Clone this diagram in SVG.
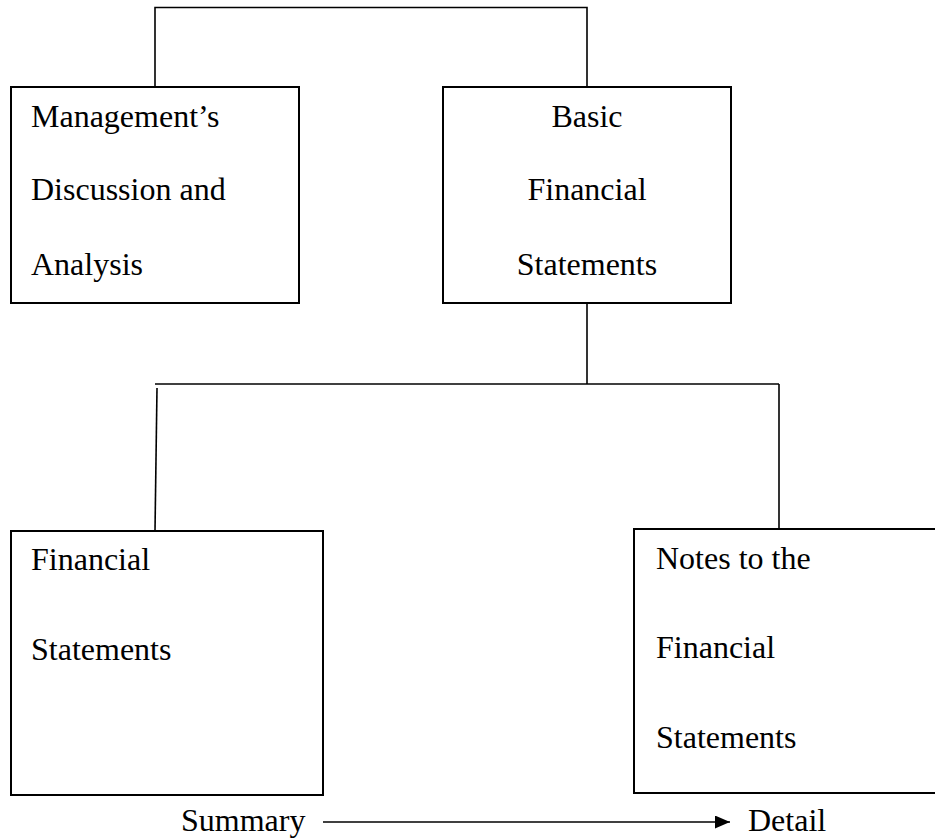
<svg xmlns="http://www.w3.org/2000/svg" width="935" height="839" viewBox="0 0 935 839">
<style>
.box{fill:#fff;stroke:#000;stroke-width:2}
.ln{fill:none;stroke:#000;stroke-width:1.6}
text{font-family:"Liberation Serif","Times New Roman",serif;font-size:32px;fill:#000}
</style>
<defs>
<marker id="ah" markerWidth="15" markerHeight="13" refX="15" refY="6.5" orient="auto" markerUnits="userSpaceOnUse">
<path d="M0,0 L15,6.5 L0,13 Z" fill="#000"/>
</marker>
</defs>
<rect width="935" height="839" fill="#fff"/>
<g id="connectors">
<path class="ln" d="M155,87 V7.5 H587 V87"/>
<path class="ln" d="M587,303 V384"/>
<path class="ln" d="M155,384 H779"/>
<path class="ln" d="M157,388 L155,531"/>
<path class="ln" d="M779,384 V529"/>
<path class="ln" d="M323,822 H730" marker-end="url(#ah)"/>
</g>
<g id="mdna">
<rect class="box" x="11" y="87" width="288" height="216"/>
<text x="31" y="127">Management’s</text>
<text x="31" y="200">Discussion and</text>
<text x="31" y="275">Analysis</text>
</g>
<g id="basic">
<rect class="box" x="443" y="87" width="288" height="216"/>
<text x="587" y="127" text-anchor="middle">Basic</text>
<text x="587" y="200" text-anchor="middle">Financial</text>
<text x="587" y="275" text-anchor="middle">Statements</text>
</g>
<g id="financial-statements">
<rect class="box" x="11" y="531" width="312" height="264"/>
<text x="31" y="570">Financial</text>
<text x="31" y="660">Statements</text>
</g>
<g id="notes">
<rect class="box" x="634" y="529" width="320" height="264"/>
<text x="656" y="569">Notes to the</text>
<text x="656" y="658">Financial</text>
<text x="656" y="748">Statements</text>
</g>
<g id="labels">
<text x="181" y="831">Summary</text>
<text x="748" y="831">Detail</text>
</g>
</svg>
